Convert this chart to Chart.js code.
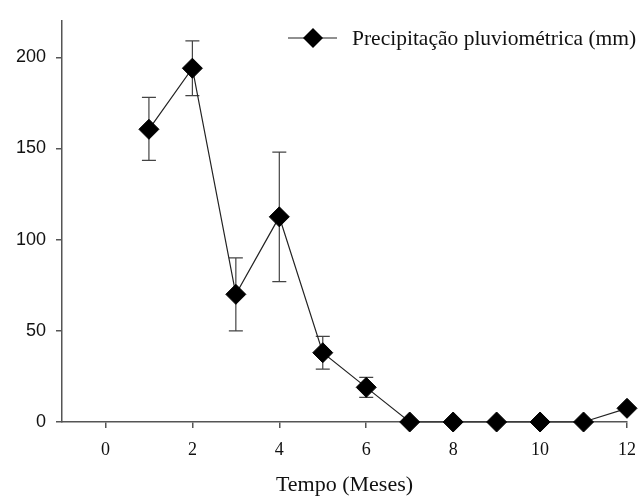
<!DOCTYPE html>
<html>
<head>
<meta charset="utf-8">
<script src="https://cdn.jsdelivr.net/npm/chart.js@4/dist/chart.umd.min.js"></script>
<style>
  html, body { margin: 0; padding: 0; background: #fff; }
  #wrap { width: 641px; height: 498px; }
</style>
</head>
<body>
<div id="wrap"><canvas id="grafico" width="641" height="498"></canvas></div>
<script>
// Dados
const meses = [1, 2, 3, 4, 5, 6, 7, 8, 9, 10, 11, 12];
const precipitacao = [160.5, 194, 70, 112.5, 38, 19, 0, 0, 0, 0, 0, 7.5];
const erroSup = [178, 209, 90, 148, 47, 24.5, null, null, null, null, null, null];
const erroInf = [143.5, 179, 50, 77, 29, 13.5, null, null, null, null, null, null];
const ticksX = [0, 2, 4, 6, 8, 10, 12];
const ticksY = [0, 50, 100, 150, 200];
const legenda = "Precipitação pluviométrica (mm)";
const tituloX = "Tempo (Meses)";

const corEixo = "#555";
const serif = "'Liberation Serif', 'Times New Roman', serif";
const sans = "'Liberation Sans', Arial, sans-serif";

// Barras de erro (desenhadas atrás dos marcadores)
const barrasErro = {
  id: "barrasErro",
  beforeDatasetsDraw(chart) {
    const { ctx, scales: { x, y } } = chart;
    ctx.save();
    ctx.strokeStyle = "#444";
    ctx.lineWidth = 1.2;
    meses.forEach((m, i) => {
      if (erroSup[i] == null) return;
      const px = x.getPixelForValue(m);
      const yt = y.getPixelForValue(erroSup[i]);
      const yb = y.getPixelForValue(erroInf[i]);
      ctx.beginPath();
      ctx.moveTo(px, yt); ctx.lineTo(px, yb);
      ctx.moveTo(px - 7, yt); ctx.lineTo(px + 7, yt);
      ctx.moveTo(px - 7, yb); ctx.lineTo(px + 7, yb);
      ctx.stroke();
    });
    ctx.restore();
  }
};

// Legenda com linha + losango
const legendaPlugin = {
  id: "legendaPlugin",
  afterDraw(chart) {
    const { ctx } = chart;
    const yc = 38;
    ctx.save();
    ctx.strokeStyle = "#222";
    ctx.lineWidth = 1.2;
    ctx.beginPath();
    ctx.moveTo(288, yc); ctx.lineTo(337, yc);
    ctx.stroke();
    ctx.fillStyle = "#000";
    ctx.beginPath();
    ctx.moveTo(313, yc - 10); ctx.lineTo(323, yc);
    ctx.lineTo(313, yc + 10); ctx.lineTo(303, yc);
    ctx.closePath();
    ctx.fill();
    ctx.font = "21.5px " + serif;
    ctx.fillStyle = "#111";
    ctx.textBaseline = "middle";
    ctx.fillText(legenda, 352, yc + 1);
    ctx.restore();
  }
};

const ctx = document.getElementById("grafico").getContext("2d");
new Chart(ctx, {
  type: "line",
  data: {
    datasets: [{
      label: legenda,
      data: meses.map((m, i) => ({ x: m, y: precipitacao[i] })),
      borderColor: "#222",
      borderWidth: 1.2,
      pointStyle: "rectRot",
      pointRadius: 10,
      pointBackgroundColor: "#000",
      pointBorderColor: "#000",
      pointBorderWidth: 1,
      tension: 0,
      fill: false,
      clip: false
    }]
  },
  options: {
    responsive: false,
    animation: false,
    layout: { padding: { top: 15, right: 14, left: 0, bottom: 0 } },
    plugins: {
      legend: { display: false },
      tooltip: { enabled: false }
    },
    scales: {
      x: {
        type: "linear",
        min: -1,
        max: 12,
        afterBuildTicks: s => { s.ticks = ticksX.map(v => ({ value: v })); },
        afterFit: s => { s.height = 76; s.paddingRight = 14; s.paddingLeft = 0; },
        border: { display: true, color: corEixo, width: 1.5 },
        grid: { drawOnChartArea: false, drawTicks: true, tickLength: 6, color: corEixo, lineWidth: 1.5 },
        ticks: { font: { family: serif, size: 18 }, color: "#111", padding: 11, maxRotation: 0 },
        title: { display: true, text: tituloX, font: { family: serif, size: 22 }, color: "#111", padding: { top: 6, bottom: 0 } }
      },
      y: {
        type: "linear",
        min: 0,
        max: 220,
        afterBuildTicks: s => { s.ticks = ticksY.map(v => ({ value: v })); },
        afterFit: s => { s.width = 62; },
        border: { display: true, color: corEixo, width: 1.5 },
        grid: { drawOnChartArea: false, drawTicks: true, tickLength: 6, color: corEixo, lineWidth: 1.5 },
        ticks: { font: { family: sans, size: 18 }, color: "#111", padding: 10 }
      }
    }
  },
  plugins: [barrasErro, legendaPlugin]
});
</script>
</body>
</html>
